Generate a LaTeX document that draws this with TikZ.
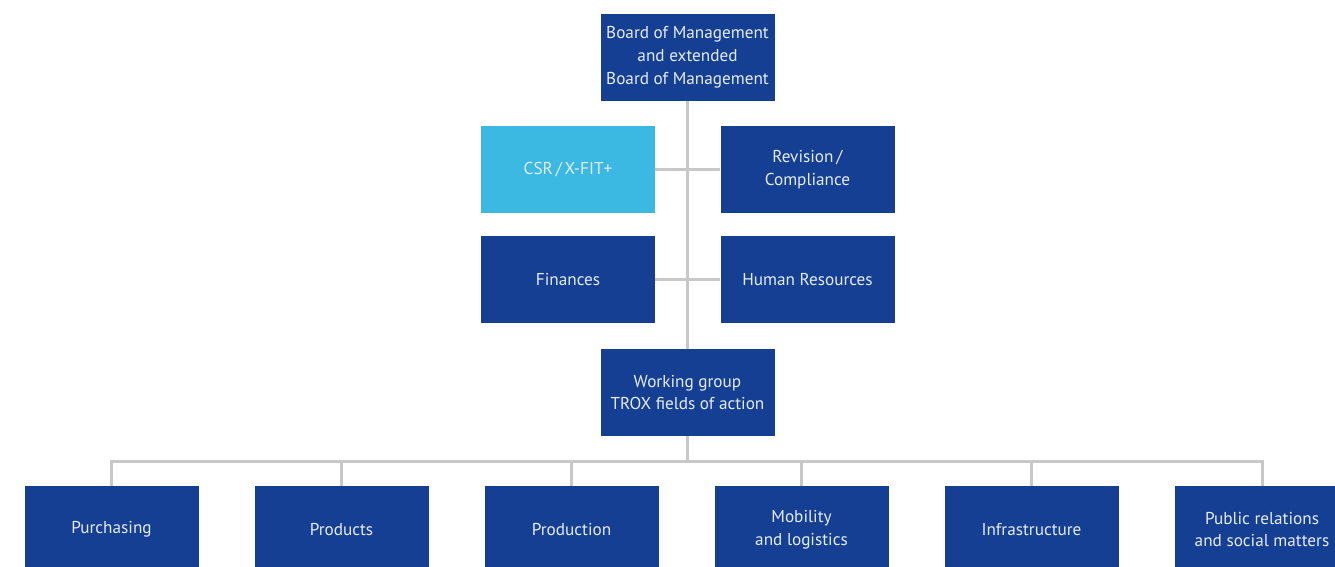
\documentclass[tikz,border=0pt]{standalone}
\usepackage{fontspec}
\setmainfont{PT Sans}
\definecolor{boxblue}{HTML}{143F93}
\definecolor{lightblue}{HTML}{3BB9E3}
\definecolor{linegrey}{HTML}{C8C8C8}
\definecolor{txt}{HTML}{E6ECF4}
\begin{document}
\begin{tikzpicture}[x=1pt,y=-1pt,
  orgbox/.style={fill=boxblue, draw=none, minimum width=174pt, minimum height=87pt, inner sep=0pt, align=center, text=txt, font=\fontsize{17.2}{22.8}\selectfont},
  conn/.style={draw=linegrey, line width=3pt}]
\useasboundingbox (0,0) rectangle (1335,567);
\clip (0,0) rectangle (1335,567);
\node[orgbox] (board) at (687.5,57.5) {Board of Management\\and extended\\Board of Management};
\node[orgbox, fill=lightblue] (csr) at (568,169.5) {CSR\,/\,X-FIT+};
\node[orgbox] (rev) at (807.5,169.5) {Revision\,/\\Compliance};
\node[orgbox] (fin) at (568,279.5) {Finances};
\node[orgbox] (hr) at (807.5,279.5) {Human Resources};
\node[orgbox] (wg) at (687.5,392.5) {Working group\\TROX fields of action};
\node[orgbox] (pur) at (111.5,529.5) {Purchasing};
\node[orgbox] (prod) at (341.5,529.5) {Products};
\node[orgbox] (prodn) at (571.5,529.5) {Production};
\node[orgbox] (mob) at (801.5,529.5) {Mobility\\and logistics};
\node[orgbox] (inf) at (1031.5,529.5) {Infrastructure};
\node[orgbox] (pub) at (1262,529.5) {Public relations\\and social matters};
\coordinate (bus) at (687.5,461);
\draw[conn] (board.south) -- (wg.north);
\draw[conn] (csr.east) -- (rev.west);
\draw[conn] (fin.east) -- (hr.west);
\draw[conn] (wg.south) -- (bus);
\draw[conn] (pur.north) |- (bus) -| (pub.north);
\foreach \n in {prod,prodn,mob,inf}{\draw[conn] (\n.north) -- (\n.north |- bus);}
\end{tikzpicture}
\end{document}
